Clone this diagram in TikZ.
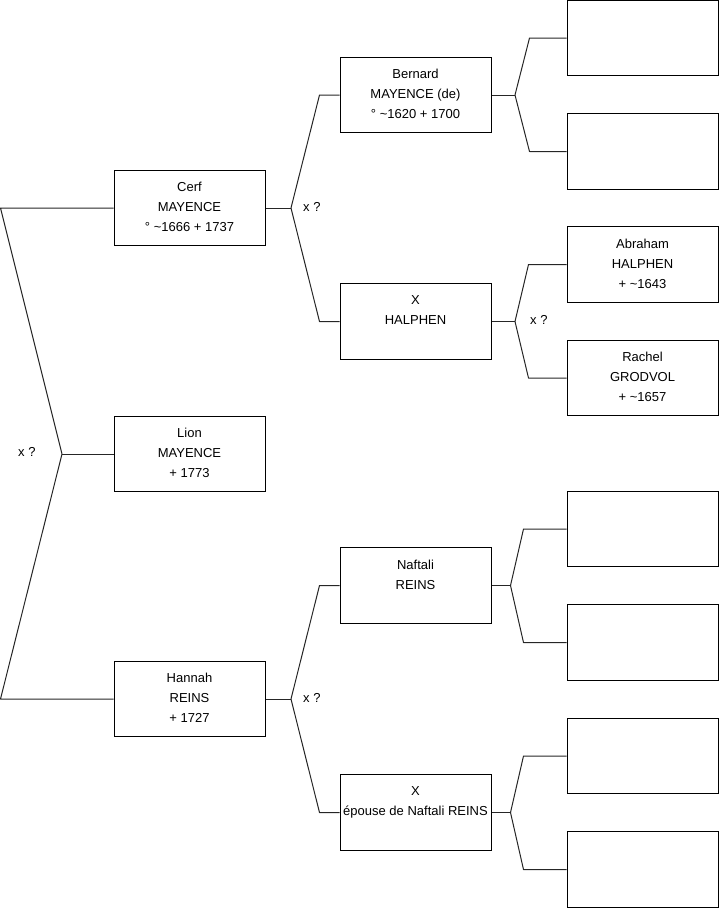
\documentclass[tikz,border=0pt]{standalone}
\usepackage{fontspec}
\setmainfont{Liberation Sans}
\usetikzlibrary{calc}
\tikzset{
    person/.style={draw, line width=1pt, minimum width=151pt, minimum height=75.5pt,
                   inner sep=0pt, align=center, text depth=2pt,
                   font=\fontsize{13}{20}\selectfont},
    unknown/.style={person},
    link/.style={line width=1pt, draw=black!85, line join=round},
    note/.style={font=\fontsize{13}{14}\selectfont, anchor=west, inner sep=0pt},
}

\begin{document}
\begin{tikzpicture}[x=1pt, y=-1pt]
    \useasboundingbox (0,0) rectangle (719,908);

    \node[person] (cerf) at (189.5,208) {Cerf\\MAYENCE\\° \textasciitilde1666 + 1737};
    \node[person] (lion) at (189.5,454) {Lion\\MAYENCE\\+ 1773};
    \node[person] (hannah) at (189.5,699) {Hannah\\REINS\\+ 1727};
    \node[person] (bernard) at (415.5,95) {Bernard\\MAYENCE (de)\\° \textasciitilde1620 + 1700};
    \node[person] (halphen) at (415.5,321.5) {X\\HALPHEN\\\mbox{}};
    \node[person] (naftali) at (415.5,585.5) {Naftali\\REINS\\\mbox{}};
    \node[person] (epouse) at (415.5,812.5) {X\\épouse de Naftali REINS\\\mbox{}};
    \node[unknown] (r1) at (642.5,38) {};
    \node[unknown] (r2) at (642.5,151.5) {};
    \node[person] (abraham) at (642.5,264.5) {Abraham\\HALPHEN\\+ \textasciitilde1643};
    \node[person] (rachel) at (642.5,378) {Rachel\\GRODVOL\\+ \textasciitilde1657};
    \node[unknown] (r5) at (642.5,529) {};
    \node[unknown] (r6) at (642.5,642.5) {};
    \node[unknown] (r7) at (642.5,756) {};
    \node[unknown] (r8) at (642.5,869.5) {};

    % junctions
    \coordinate (rtop) at (0.5,208);
    \coordinate (rbot) at (0.5,699);
    \coordinate (rootj) at (62,454);
    \coordinate (cerfj) at (291,208);
    \coordinate (hannahj) at (291,699);
    \coordinate (bernardj) at (515,95);
    \coordinate (halphenj) at (515,321.5);
    \coordinate (naftalij) at (510.5,585.5);
    \coordinate (epousej) at (510.5,812.5);

    \draw[link] (cerf.west) -- (rtop) -- (rootj) -- (rbot) -- (hannah.west);
    \draw[link] (rootj) -- (lion.west);
    \node[note] (xroot) at (18,452) {x ?};

    \draw[link] (cerf.east) -- (cerfj);
    \draw[link] (cerfj) -- ($(bernard.west)+(-20,0)$) -- (bernard.west);
    \draw[link] (cerfj) -- ($(halphen.west)+(-20,0)$) -- (halphen.west);
    \node[note] (xcerf) at (303,207) {x ?};

    \draw[link] (hannah.east) -- (hannahj);
    \draw[link] (hannahj) -- ($(naftali.west)+(-20,0)$) -- (naftali.west);
    \draw[link] (hannahj) -- ($(epouse.west)+(-20,0)$) -- (epouse.west);
    \node[note] (xhannah) at (303,698) {x ?};

    \draw[link] (bernard.east) -- (bernardj);
    \draw[link] (bernardj) -- ($(r1.west)+(-37,0)$) -- (r1.west);
    \draw[link] (bernardj) -- ($(r2.west)+(-37,0)$) -- (r2.west);

    \draw[link] (halphen.east) -- (halphenj);
    \draw[link] (halphenj) -- ($(abraham.west)+(-38,0)$) -- (abraham.west);
    \draw[link] (halphenj) -- ($(rachel.west)+(-38,0)$) -- (rachel.west);
    \node[note] (xhalphen) at (530,320) {x ?};

    \draw[link] (naftali.east) -- (naftalij);
    \draw[link] (naftalij) -- ($(r5.west)+(-43,0)$) -- (r5.west);
    \draw[link] (naftalij) -- ($(r6.west)+(-43,0)$) -- (r6.west);

    \draw[link] (epouse.east) -- (epousej);
    \draw[link] (epousej) -- ($(r7.west)+(-43,0)$) -- (r7.west);
    \draw[link] (epousej) -- ($(r8.west)+(-43,0)$) -- (r8.west);

\end{tikzpicture}
\end{document}
